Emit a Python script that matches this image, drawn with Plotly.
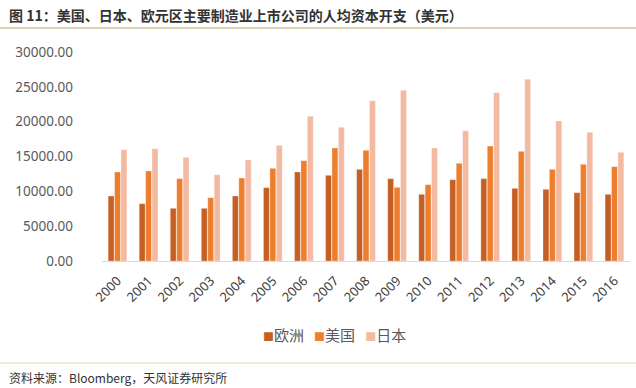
import plotly.graph_objects as go

years = [str(y) for y in range(2000, 2017)]
europe = [9330, 8230, 7560, 7560, 9330, 10530, 12780, 12300, 13160, 11820, 9570, 11670, 11820, 10430, 10290, 9810, 9570]
usa = [12780, 12920, 11820, 9090, 11910, 13300, 14400, 16220, 15890, 10570, 10960, 14020, 16500, 15740, 13160, 13880, 13540]
japan = [15980, 16120, 14880, 12390, 14500, 16600, 20770, 19190, 23000, 24500, 16220, 18700, 24160, 26080, 20100, 18470, 15600]

series = [("欧洲", europe, "#C55F24"), ("美国", usa, "#EC7E2E"), ("日本", japan, "#F3B9A1")]

L, R, T, B = 102, 6, 52, 127
W, H = 636, 388
PW, PH = W - L - R, H - T - B

def px_x(x):
    return (x - L) / PW

def px_y(y):
    return (H - B - y) / PH

fig = go.Figure()
for name, vals, col in series:
    fig.add_trace(go.Bar(x=years, y=vals, name=name,
                         marker=dict(color=col, line=dict(color="rgba(255,255,255,0.6)", width=0.5))))

font_cjk = "Noto Sans CJK SC, Microsoft YaHei, sans-serif"
fig.update_layout(
    width=W, height=H,
    margin=dict(l=L, r=R, t=T, b=B, autoexpand=False),
    paper_bgcolor="white", plot_bgcolor="white",
    barmode="group", bargap=0.38, bargroupgap=0.08,
    showlegend=False,
    xaxis=dict(tickangle=-45, tickfont=dict(family="Noto Sans, sans-serif", size=13, color="#404040"),
               showline=True, linecolor="#D9D9D9", linewidth=1, ticks="", showgrid=False, automargin=False,
               ticklabelstandoff=6),
    yaxis=dict(range=[0, 30000], dtick=5000, tickformat=".2f",
               tickfont=dict(family="Noto Sans, sans-serif", size=13.5, color="#595959"),
               showgrid=False, zeroline=False, showline=False, ticks="", ticklabelstandoff=28,
               automargin=False),
    font=dict(family=font_cjk),
)

legend_html = "&nbsp;&nbsp;&nbsp;".join(
    f'<span style="color:{col};font-size:11px">■</span>{name}' for name, _, col in series)
fig.add_annotation(text=legend_html, xref="paper", yref="paper", x=px_x(334), y=px_y(334),
                   xanchor="center", yanchor="middle", showarrow=False,
                   font=dict(family=font_cjk, size=15, color="#595959"))

fig.add_annotation(text="<b>图 11：美国、日本、欧元区主要制造业上市公司的人均资本开支（美元）</b>",
                   xref="paper", yref="paper", x=px_x(7), y=px_y(15), xanchor="left", yanchor="middle",
                   showarrow=False, font=dict(family=font_cjk, size=14, color="#333333"))
fig.add_annotation(text="资料来源：Bloomberg，天风证券研究所",
                   xref="paper", yref="paper", x=px_x(7), y=px_y(377), xanchor="left", yanchor="middle",
                   showarrow=False, font=dict(family=font_cjk, size=12, color="#333333"))
fig.add_shape(type="line", xref="paper", yref="paper", x0=px_x(0), x1=px_x(W),
              y0=px_y(28), y1=px_y(28), line=dict(color="#CDBF98", width=1.5))
fig.add_shape(type="line", xref="paper", yref="paper", x0=px_x(0), x1=px_x(W),
              y0=px_y(363), y1=px_y(363), line=dict(color="#E3D3B0", width=1))

fig.write_html("out.html", config={"displayModeBar": False},
               post_script="document.body.style.margin='0';document.body.style.overflow='hidden';")
